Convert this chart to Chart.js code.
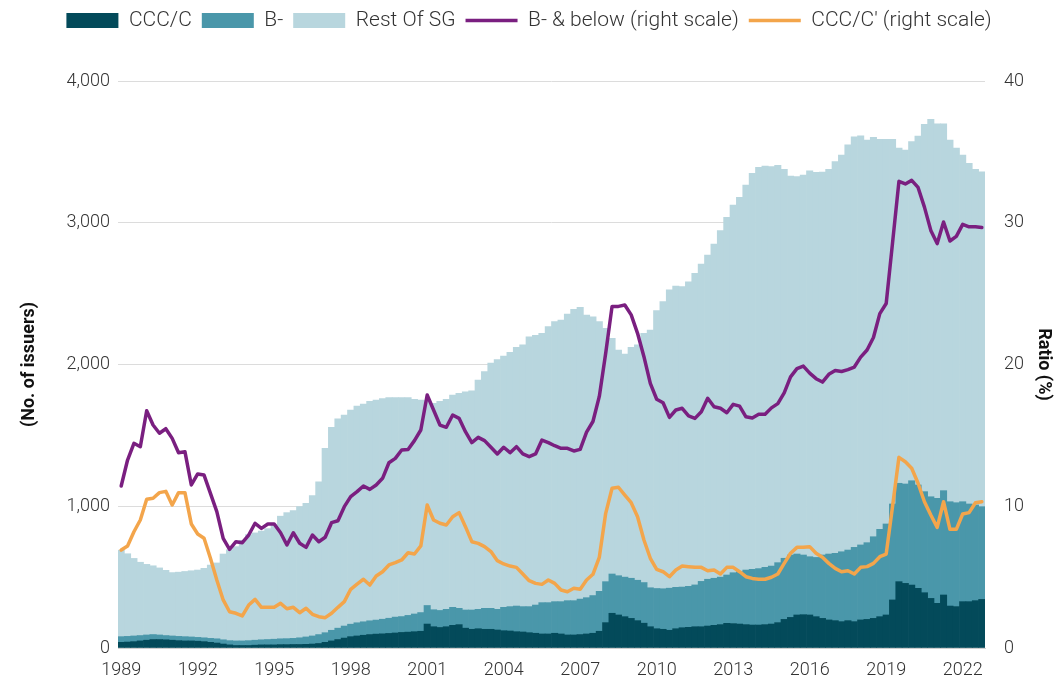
<!DOCTYPE html>
<html><head><meta charset="utf-8">
<script src="https://cdn.jsdelivr.net/npm/chart.js@4/dist/chart.umd.min.js"></script>
<style>html,body{margin:0;padding:0;background:#fff;}#wrap{width:1058px;height:688px;}</style>
</head><body><div id="wrap"><canvas id="c" width="1058" height="688"></canvas></div>
<script>
const firstYear = 1989, lastYear = 2022;
const quarters = [];
for (let y = firstYear; y <= lastYear; y++) for (let q = 1; q <= 4; q++) quarters.push(y + 'Q' + q);
const yearTicks = ['1989','1992','1995','1998','2001','2004','2007','2010','2013','2016','2019','2022'];

const cccC = [
 40,42,45,50,55,60,60,58,55,52,50,50,
 48,45,40,35,28,22,18,18,18,20,22,22,
 22,24,24,25,25,26,28,32,40,50,60,70,
 80,85,90,95,98,100,103,106,110,112,115,118,
 169,150,145,150,160,165,140,132,136,132,132,127,
 122,120,115,113,108,104,99,99,104,99,92,92,
 95,99,104,118,179,245,233,221,209,193,175,150,
 136,132,125,136,143,146,150,150,155,160,165,174,
 172,169,165,162,162,165,169,179,202,216,233,235,
 233,221,209,198,193,186,193,186,198,202,209,221,
 233,339,468,456,444,421,390,350,315,374,296,292,
 327,327,334,343];
const bMinus = [
 40,40,40,38,37,35,32,30,30,30,30,28,
 27,27,28,30,30,30,32,32,34,35,36,38,
 40,41,42,43,47,52,57,63,68,75,80,85,
 88,93,95,97,99,103,107,112,112,118,125,132,
 131,120,120,123,127,115,128,136,137,148,148,146,
 165,172,181,179,184,199,221,221,223,228,242,242,
 250,256,266,282,289,277,277,279,283,285,287,275,
 284,286,297,292,287,289,295,320,330,332,335,341,
 359,369,385,393,398,404,409,423,431,440,430,421,
 411,418,447,465,475,493,498,524,529,541,576,616,
 642,677,694,701,736,729,713,717,741,736,736,733,
 705,689,675,654];
const restSG = [
 610,583,547,517,498,485,473,460,447,453,460,467,
 475,490,517,535,605,641,665,710,748,757,767,782,
 808,865,889,902,925,942,990,1078,1301,1432,1476,1489,
 1511,1529,1536,1548,1552,1557,1556,1548,1544,1536,1515,1499,
 1445,1456,1475,1481,1498,1517,1540,1547,1617,1670,1730,1762,
 1773,1794,1825,1846,1904,1903,1900,1947,1975,1987,2022,2055,
 2058,1994,1967,1902,1787,1663,1592,1574,1629,1660,1758,1818,
 1960,2025,2104,2126,2119,2149,2198,2239,2287,2358,2444,2523,
 2594,2642,2716,2794,2831,2831,2818,2803,2744,2674,2662,2681,
 2723,2717,2702,2714,2763,2799,2858,2897,2887,2841,2818,2752,
 2714,2573,2364,2356,2392,2462,2591,2662,2641,2587,2552,2501,
 2446,2403,2368,2363];
const bAndBelowPct = [
 11.43,13.26,14.44,14.2,16.74,15.73,15.15,15.47,14.79,13.78,13.85,11.5,
 12.28,12.2,10.91,9.62,7.74,6.96,7.5,7.43,7.97,8.8,8.44,8.75,
 8.75,8.13,7.27,8.13,7.39,7.1,7.97,7.5,7.81,8.84,8.98,9.97,
 10.68,11.03,11.43,11.19,11.5,11.97,13.07,13.38,13.97,14.01,14.63,15.38,
 17.85,16.79,15.73,15.57,16.44,16.2,15.26,14.49,14.86,14.63,14.16,13.69,
 14.16,13.78,14.2,13.69,13.5,13.69,14.67,14.49,14.27,14.09,14.09,13.9,
 14.01,15.23,15.98,17.75,20.8,24.1,24.1,24.2,23.5,22.2,20.55,18.67,
 17.55,17.3,16.27,16.79,16.91,16.37,16.2,16.67,17.62,17.02,16.91,16.6,
 17.19,17.06,16.31,16.23,16.49,16.49,16.94,17.24,18.0,19.13,19.71,19.89,
 19.39,19.0,18.76,19.31,19.58,19.51,19.64,19.82,20.52,21.02,21.9,23.59,
 24.3,28.6,32.92,32.74,32.99,32.49,31.1,29.46,28.53,30.05,28.71,29.04,
 29.89,29.71,29.71,29.66];
const cccPct = [
 6.91,7.2,8.2,9.03,10.49,10.56,10.96,11.05,10.09,10.96,10.96,8.75,
 8.04,7.74,6.33,4.8,3.39,2.56,2.45,2.26,3.03,3.43,2.87,2.87,
 2.87,3.15,2.77,2.87,2.49,2.8,2.38,2.21,2.14,2.45,2.87,3.27,
 4.14,4.51,4.85,4.44,5.08,5.38,5.86,6.02,6.21,6.72,6.63,7.2,
 10.09,9.03,8.8,8.68,9.26,9.55,8.56,7.5,7.38,7.15,6.8,6.16,
 5.93,5.78,5.69,5.22,4.75,4.56,4.49,4.8,4.56,4.09,3.97,4.21,
 4.14,4.8,5.2,6.4,9.5,11.27,11.34,10.79,10.25,9.26,7.62,6.33,
 5.55,5.38,5.03,5.5,5.78,5.73,5.69,5.69,5.45,5.5,5.22,5.69,
 5.69,5.38,5.03,4.91,4.85,4.85,4.99,5.22,5.97,6.68,7.1,7.1,
 7.15,6.68,6.4,5.97,5.62,5.38,5.45,5.22,5.69,5.74,5.97,6.44,
 6.63,10.0,13.45,13.14,12.68,11.62,10.32,9.38,8.51,10.32,8.37,8.37,
 9.45,9.55,10.25,10.32];

Chart.defaults.font.family = "Roboto, 'Liberation Sans', sans-serif";
Chart.defaults.font.size = 18;
Chart.defaults.font.weight = '300';
Chart.defaults.color = '#333';

const legendHeight = {
  id: 'legendHeight',
  beforeInit(chart) {
    const orig = chart.legend.fit;
    chart.legend.fit = function () { orig.call(this); this.height = 81; };
  }
};

const barCommon = { type: 'bar', yAxisID: 'y', order: 1, borderWidth: 0, barPercentage: 1, categoryPercentage: 1, pointStyle: 'rect' };
const lineCommon = { type: 'line', yAxisID: 'y1', order: 0, borderWidth: 3.5, pointRadius: 0, tension: 0, fill: false, borderJoinStyle: 'round', borderCapStyle: 'round', pointStyle: 'line' };

new Chart(document.getElementById('c'), {
  data: {
    labels: quarters,
    datasets: [
      Object.assign({ label: 'CCC/C', data: cccC, backgroundColor: '#034A5A', borderColor: '#034A5A' }, barCommon),
      Object.assign({ label: 'B-', data: bMinus, backgroundColor: '#4A97AA', borderColor: '#4A97AA' }, barCommon),
      Object.assign({ label: 'Rest Of SG', data: restSG, backgroundColor: '#B8D6DE', borderColor: '#B8D6DE' }, barCommon),
      Object.assign({ label: 'B- & below (right scale)', data: bAndBelowPct, borderColor: '#7A1F80', backgroundColor: '#7A1F80' }, lineCommon),
      Object.assign({ label: "CCC/C' (right scale)", data: cccPct, borderColor: '#F3A54B', backgroundColor: '#F3A54B' }, lineCommon)
    ]
  },
  options: {
    responsive: false,
    animation: false,
    layout: { padding: 0 },
    plugins: {
      tooltip: { enabled: false },
      legend: {
        position: 'top',
        labels: {
          usePointStyle: true, pointStyleWidth: 52, boxHeight: 15, padding: 10,
          color: '#333', font: { size: 21, weight: '300' },
          sort: (a, b) => a.datasetIndex - b.datasetIndex
        }
      }
    },
    scales: {
      x: {
        stacked: true,
        grid: { display: false },
        border: { display: true, color: '#d0d0d0' },
        ticks: {
          autoSkip: false, maxRotation: 0, minRotation: 0, padding: 4,
          callback: function (v, i) {
            const lab = quarters[i];
            const yr = lab.slice(0, 4);
            return (lab.endsWith('Q1') && yearTicks.includes(yr)) ? yr : '';
          }
        },
        afterFit(s) { s.height = 40; }
      },
      y: {
        stacked: true, position: 'left', min: 0, max: 4000,
        grid: { color: '#dcdcdc', drawTicks: false },
        border: { display: false },
        ticks: { stepSize: 1000, padding: 8, callback: v => v.toLocaleString('en-US') },
        title: { display: true, text: '(No. of issuers)', color: '#111', font: { size: 18, weight: 'bold' }, padding: { top: 19 } },
        afterFit(s) { s.width = 118; }
      },
      y1: {
        position: 'right', min: 0, max: 40,
        grid: { display: false, drawTicks: false },
        border: { display: false },
        ticks: { stepSize: 10, padding: 19 },
        title: { display: true, text: 'Ratio (%)', color: '#111', font: { size: 18, weight: 'bold' }, padding: { top: 4 } },
        afterFit(s) { s.width = 73; }
      }
    }
  },
  plugins: [legendHeight]
});
</script>
</body></html>
